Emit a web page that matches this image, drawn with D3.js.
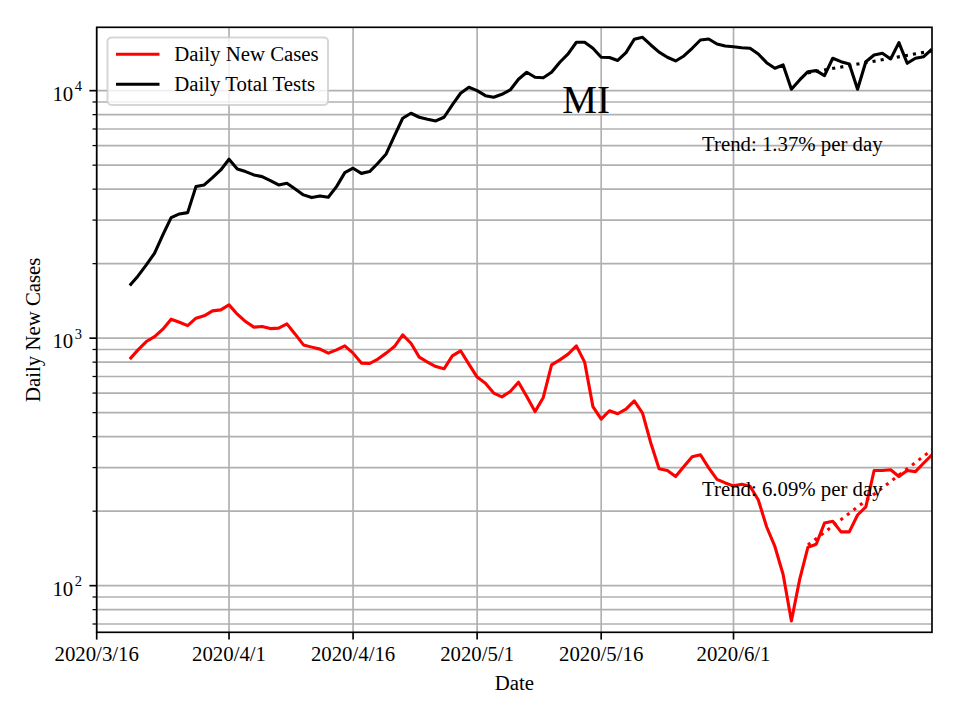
<!DOCTYPE html>
<html>
<head>
<meta charset="utf-8">
<script src="https://cdn.jsdelivr.net/npm/d3@7"></script>
<style>
  html, body { margin: 0; padding: 0; background: #ffffff; }
  svg { display: block; }
  text { font-family: "Liberation Serif", "Times New Roman", serif; fill: #000; }
</style>
</head>
<body>
<svg id="chart" width="960" height="720"></svg>
<script>
// ---------------- data ----------------
const seriesStart = "2020-03-20";   // first daily point, consecutive days after it
const newCases = [
  823, 897, 969, 1015, 1087, 1193, 1160, 1124, 1204, 1231,
  1289, 1301, 1363, 1250, 1167, 1108, 1114, 1093, 1098, 1142,
  1038, 939, 920, 903, 870, 897, 931, 870, 793, 790,
  823, 870, 925, 1031, 954, 838, 800, 768, 752, 848,
  889, 785, 696, 658, 600, 579, 609, 664, 581, 505,
  576, 780, 817, 862, 931, 800, 529, 471, 509, 495,
  517, 558, 498, 377, 297, 292, 276, 303, 332, 338,
  299, 269, 260, 253, 257, 252, 222, 173, 144, 111,
  72, 106, 143, 147, 179, 182, 165, 165, 193, 208,
  292, 292, 294, 276, 292, 289, 313, 338
];
const totalTests = [
  1631, 1785, 1977, 2205, 2613, 3069, 3177, 3216, 4096, 4161,
  4453, 4783, 5284, 4829, 4710, 4566, 4495, 4330, 4161, 4227,
  4009, 3792, 3698, 3756, 3711, 4096, 4666, 4860, 4632, 4710,
  5091, 5550, 6561, 7736, 8103, 7809, 7665, 7544, 7809, 8754,
  9761, 10320, 10000, 9545, 9404, 9671, 10065, 11117, 11867, 11325,
  11284, 11867, 13022, 14072, 15688, 15688, 14836, 13641, 13616, 13243,
  14243, 16130, 16430, 15294, 14307, 13641, 13183, 13806, 14836, 16025,
  16173, 15435, 15150, 15053, 14914, 14836, 14072, 12974, 12317, 12700,
  10131, 11046, 11933, 12045, 11497, 13515, 13094, 12818, 10131, 13094,
  13940, 14158, 13428, 15630, 12902, 13515, 13717, 14700
];
const trendDates = ["2020-06-10", "2020-06-25"];
const trendCases = [146, 354];
const trendTests = [11800, 14470];
const trendLabels = ["Trend: 1.37% per day", "Trend: 6.09% per day"];
const stateLabel = "MI";
const xDomain = ["2020-03-16", "2020-06-25"];
const yDomain = [64.8, 18030];
const xTickDates = ["2020-03-16", "2020-04-01", "2020-04-16", "2020-05-01", "2020-05-16", "2020-06-01"];
const xTickLabels = ["2020/3/16", "2020/4/1", "2020/4/16", "2020/5/1", "2020/5/16", "2020/6/1"];
const yMajorTicks = [100, 1000, 10000];
const legendLabels = ["Daily New Cases", "Daily Total Tests"];
const xLabel = "Date";
const yLabel = "Daily New Cases";

// ---------------- layout ----------------
const L = 96.7, R = 932, T = 27.3, B = 632.3;
const FS = 20.8;
const parse = s => { const [y, m, d] = s.split("-").map(Number); return new Date(Date.UTC(y, m - 1, d)); };
const DAY = 86400000;
const t0 = parse(seriesStart).getTime();
const dateAt = i => new Date(t0 + i * DAY);

const x = d3.scaleUtc().domain(xDomain.map(parse)).range([L, R]);
const y = d3.scaleLog().domain(yDomain).range([B, T]);

const svg = d3.select("#chart");
svg.append("rect").attr("width", 960).attr("height", 720).attr("fill", "#fff");

svg.append("defs").append("clipPath").attr("id", "clip")
  .append("rect").attr("x", L).attr("y", T).attr("width", R - L).attr("height", B - T);

// grid
const allY = y.ticks();
const minorY = allY.filter(v => !yMajorTicks.includes(v));
const grid = svg.append("g");
grid.selectAll("line.hy").data(allY).join("line")
  .attr("x1", L).attr("x2", R).attr("y1", d => y(d)).attr("y2", d => y(d))
  .attr("stroke", "#b0b0b0").attr("stroke-width", 1.67);
grid.selectAll("line.vx").data(xTickDates).join("line")
  .attr("x1", d => x(parse(d))).attr("x2", d => x(parse(d)))
  .attr("y1", T).attr("y2", B)
  .attr("stroke", "#b0b0b0").attr("stroke-width", 1.67);

// lines
const plot = svg.append("g").attr("clip-path", "url(#clip)");
const line = d3.line().x((d, i) => x(dateAt(i))).y(d => y(d));
const tline = d3.line().x(d => x(parse(d[0]))).y(d => y(d[1]));
plot.append("path").datum(trendDates.map((d, i) => [d, trendTests[i]])).attr("d", tline)
  .attr("fill", "none").attr("stroke", "#000").attr("stroke-width", 3.1).attr("stroke-dasharray", "3.1,5.1");
plot.append("path").datum(totalTests).attr("d", line)
  .attr("fill", "none").attr("stroke", "#000").attr("stroke-width", 3.1).attr("stroke-linejoin", "round");
plot.append("path").datum(newCases).attr("d", line)
  .attr("fill", "none").attr("stroke", "#ff0000").attr("stroke-width", 3.1).attr("stroke-linejoin", "round");
plot.append("path").datum(trendDates.map((d, i) => [d, trendCases[i]])).attr("d", tline)
  .attr("fill", "none").attr("stroke", "#ff0000").attr("stroke-width", 3.1).attr("stroke-dasharray", "3.1,5.1");

// texts in axes
const ax = f => L + f * (R - L);
const ay = f => B - f * (B - T);
svg.append("text").attr("x", ax(0.586)).attr("y", ay(0.858))
  .attr("text-anchor", "middle").attr("font-size", 39).text(stateLabel);
svg.append("text").attr("x", ax(0.7247)).attr("y", ay(0.7958))
  .attr("font-size", FS).text(trendLabels[0]);
svg.append("text").attr("x", ax(0.7247)).attr("y", ay(0.2253))
  .attr("font-size", FS).text(trendLabels[1]);

// spines
svg.append("rect").attr("x", L).attr("y", T).attr("width", R - L).attr("height", B - T)
  .attr("fill", "none").attr("stroke", "#000").attr("stroke-width", 1.67);

// x ticks
const xt = svg.append("g");
xt.selectAll("line").data(xTickDates).join("line")
  .attr("x1", d => x(parse(d))).attr("x2", d => x(parse(d)))
  .attr("y1", B).attr("y2", B + 7.3).attr("stroke", "#000").attr("stroke-width", 1.67);
xt.selectAll("text").data(xTickDates).join("text")
  .attr("x", d => x(parse(d))).attr("y", 661)
  .attr("text-anchor", "middle").attr("font-size", FS)
  .text((d, i) => xTickLabels[i]);

// y ticks
const yt = svg.append("g");
yt.selectAll("line.maj").data(yMajorTicks).join("line")
  .attr("x1", L - 7.3).attr("x2", L).attr("y1", d => y(d)).attr("y2", d => y(d))
  .attr("stroke", "#000").attr("stroke-width", 1.67);
yt.selectAll("line.min").data(minorY).join("line")
  .attr("x1", L - 4.2).attr("x2", L).attr("y1", d => y(d)).attr("y2", d => y(d))
  .attr("stroke", "#000").attr("stroke-width", 1.25);
yMajorTicks.forEach(v => {
  const t = yt.append("text").attr("x", 82).attr("y", y(v) + 10.3)
    .attr("text-anchor", "end").attr("font-size", FS);
  t.append("tspan").text("10");
  t.append("tspan").attr("dy", -9.5).attr("dx", 1.5).attr("font-size", 14.5).text(String(Math.round(Math.log10(v))));
});

// axis labels
svg.append("text").attr("x", (L + R) / 2).attr("y", 690)
  .attr("text-anchor", "middle").attr("font-size", FS).text(xLabel);
svg.append("text").attr("transform", `translate(39.5,${(T + B) / 2}) rotate(-90)`)
  .attr("text-anchor", "middle").attr("font-size", FS).text(yLabel);

// legend
const lg = svg.append("g");
lg.append("rect").attr("x", 107.5).attr("y", 37.5).attr("width", 220.5).attr("height", 67.5)
  .attr("rx", 4).attr("ry", 4)
  .attr("fill", "#fff").attr("fill-opacity", 0.8)
  .attr("stroke", "#cccccc").attr("stroke-opacity", 0.8).attr("stroke-width", 2);
const lcolors = ["#ff0000", "#000000"];
legendLabels.forEach((lab, i) => {
  const cy = 54.3 + i * 30;
  lg.append("line").attr("x1", 116).attr("x2", 159.5).attr("y1", cy).attr("y2", cy)
    .attr("stroke", lcolors[i]).attr("stroke-width", 3.1);
  lg.append("text").attr("x", 174.3).attr("y", cy + 7).attr("font-size", FS).text(lab);
});
</script>
</body>
</html>
